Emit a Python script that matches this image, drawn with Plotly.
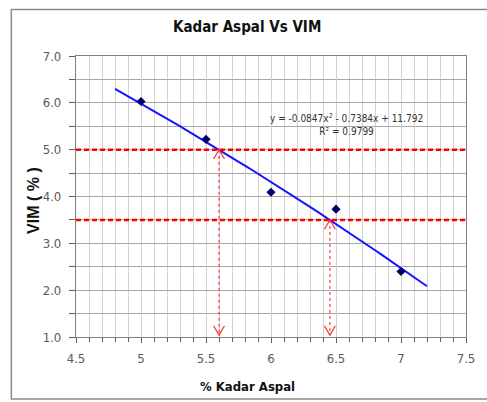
import numpy as np
import plotly.graph_objects as go

# Measured data: asphalt content (%) vs VIM (%)
kadar_aspal = [5.0, 5.5, 6.0, 6.5, 7.0]
vim = [6.03, 5.22, 4.09, 3.73, 2.40]

# Polynomial trendline (2nd order) as reported on the chart
coef_a, coef_b, coef_c = -0.0847, -0.7384, 11.792
r_squared = 0.9799
trend_range = [4.8, 7.2]

# VIM specification limits
vim_limits = [5.0, 3.5]

x_ticks = [4.5, 5.0, 5.5, 6.0, 6.5, 7.0, 7.5]
x_tick_text = ["4.5", "5", "5.5", "6", "6.5", "7", "7.5"]
y_ticks = [1, 2, 3, 4, 5, 6, 7]
y_tick_text = ["1.0", "2.0", "3.0", "4.0", "5.0", "6.0", "7.0"]

W, H = 487, 402
L, R, T, B = 76, 474, 56, 337

NARROW = "DejaVu Sans Condensed, Liberation Sans Narrow, Liberation Sans, sans-serif"
SANS = "Liberation Sans, Arial, sans-serif"


def px_x(p):
    return (p - L) / (R - L)


def px_y(p):
    return (B - p) / (B - T)


def trend(x):
    return coef_a * x ** 2 + coef_b * x + coef_c


def crossing(level):
    roots = np.roots([coef_a, coef_b, coef_c - level])
    roots = roots[np.isreal(roots)].real
    return float(roots[(roots > trend_range[0]) & (roots < trend_range[1])][0])


fig = go.Figure()

# trendline
xt = np.linspace(trend_range[0], trend_range[1], 100)
fig.add_trace(go.Scatter(x=xt, y=trend(xt), mode="lines",
                         line=dict(color="#1414ff", width=2),
                         hoverinfo="skip", showlegend=False))

# data points
fig.add_trace(go.Scatter(x=kadar_aspal, y=vim, mode="markers",
                         marker=dict(symbol="diamond", size=7, color="#000066"),
                         showlegend=False))

shapes = []
red = "#ff0000"
arrow_red = "#ff3b3b"
y_floor = 1.04
dx, dy = 0.042, 0.2
for lvl in vim_limits:
    # specification limit line
    shapes.append(dict(type="line", xref="x domain", yref="y", x0=0, x1=1,
                       y0=lvl, y1=lvl, line=dict(color=red, width=2.5, dash="5px,3px"),
                       layer="above"))
    xc = crossing(lvl)
    # dotted drop line from the crossing to the axis
    shapes.append(dict(type="line", xref="x", yref="y", x0=xc, x1=xc,
                       y0=lvl, y1=y_floor, line=dict(color=arrow_red, width=1.2, dash="dot")))
    # open arrowheads at both ends
    fig.add_trace(go.Scatter(x=[xc - dx, xc, xc + dx], y=[lvl - dy, lvl, lvl - dy],
                             mode="lines", line=dict(color=arrow_red, width=1.3),
                             hoverinfo="skip", showlegend=False))
    fig.add_trace(go.Scatter(x=[xc - dx, xc, xc + dx], y=[y_floor + dy, y_floor, y_floor + dy],
                             mode="lines", line=dict(color=arrow_red, width=1.3),
                             hoverinfo="skip", showlegend=False))

# outer chart frame (runs off the right edge)
shapes.append(dict(type="rect", xref="paper", yref="paper",
                   x0=px_x(10), x1=px_x(530), y0=px_y(399), y1=px_y(9.5),
                   line=dict(color="#8a8a8a", width=1.5), layer="below"))

label_font = dict(family=NARROW, size=13, color="#5a5a5a")

annotations = [
    dict(text="<b>Kadar Aspal Vs VIM</b>", xref="paper", yref="paper",
         x=px_x(251), y=px_y(27), showarrow=False, xanchor="center", yanchor="middle",
         font=dict(family=NARROW, size=15, color="#111111")),
    dict(text="<b>% Kadar Aspal</b>", xref="paper", yref="paper",
         x=px_x(251), y=px_y(386), showarrow=False, xanchor="center", yanchor="middle",
         font=dict(family=NARROW, size=13, color="#111111")),
    dict(text="<b>VIM ( % )</b>", xref="paper", yref="paper", textangle=-90,
         x=px_x(32), y=px_y(200), showarrow=False, xanchor="center", yanchor="middle",
         font=dict(family=SANS, size=16, color="#111111")),
    dict(text=f"y = {coef_a}x<sup>2</sup> - {abs(coef_b)}x + {coef_c}<br>R² = {r_squared}",
         xref="paper", yref="paper", x=px_x(352), y=px_y(124), showarrow=False,
         xanchor="center", yanchor="middle", align="center",
         font=dict(family=NARROW, size=10, color="#333333")),
]

fig.update_layout(
    width=W, height=H,
    margin=dict(l=L, r=W - R, t=T, b=H - B, pad=0),
    paper_bgcolor="white", plot_bgcolor="white",
    shapes=shapes, annotations=annotations,
    showlegend=False,
    xaxis=dict(range=[4.5, 7.5], tickvals=x_ticks, ticktext=x_tick_text,
               showline=True, linecolor="#808080", linewidth=1.2, mirror=True,
               ticks="outside", ticklen=5, tickcolor="#606060",
               showgrid=True, gridcolor="#d2d2d2", gridwidth=1,
               minor=dict(dtick=0.1, tick0=4.5, ticks="outside", ticklen=4,
                          tickcolor="#606060", showgrid=True, gridcolor="#d2d2d2"),
               tickfont=label_font, ticklabelstandoff=4, zeroline=False, fixedrange=True),
    yaxis=dict(range=[1, 7], tickvals=y_ticks, ticktext=y_tick_text,
               showline=True, linecolor="#808080", linewidth=1.2, mirror=True,
               ticks="outside", ticklen=6, tickcolor="#606060",
               showgrid=True, gridcolor="#a8a8a8", gridwidth=1,
               minor=dict(dtick=0.5, tick0=1, ticks="outside", ticklen=6,
                          tickcolor="#606060", showgrid=True, gridcolor="#a8a8a8"),
               tickfont=label_font, ticklabelstandoff=5, zeroline=False, fixedrange=True),
)

fig.write_html("out.html")
